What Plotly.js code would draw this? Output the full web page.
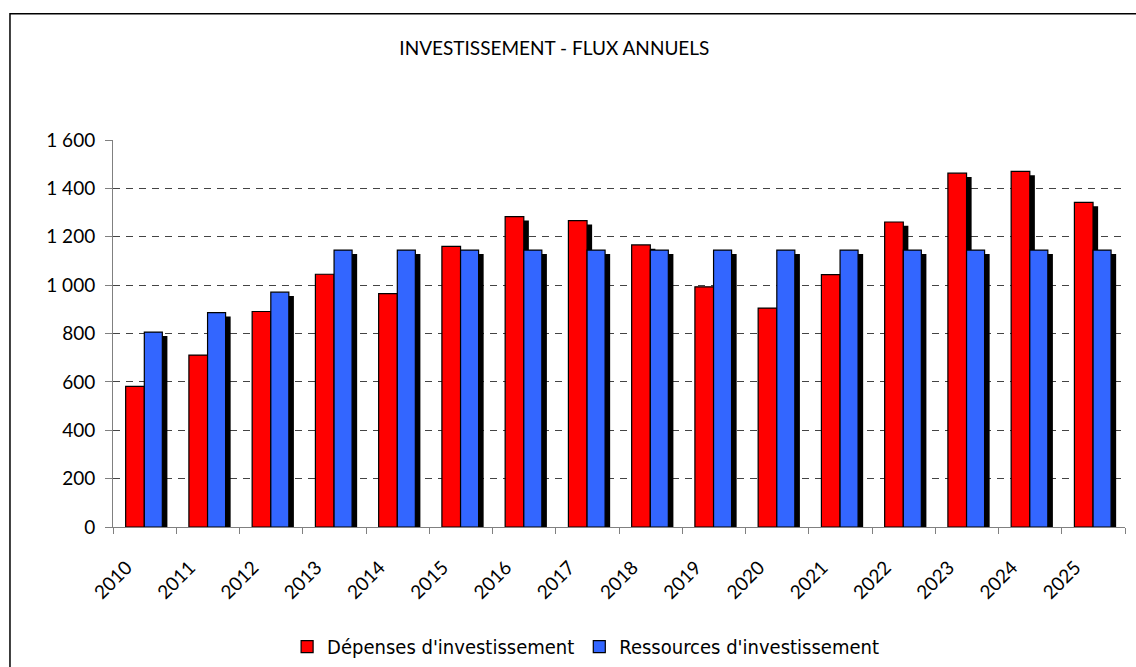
<!DOCTYPE html>
<html>
<head>
<meta charset="utf-8">
<script src="https://cdn.plot.ly/plotly-3.0.1.min.js"></script>
<style>
    html, body { margin: 0; padding: 0; background: #fff; }
    #chart { width: 1136px; height: 667px; }
</style>
</head>
<body>
<div id="chart"></div>
<script>
    // Années et flux annuels
    const annees = ['2010', '2011', '2012', '2013', '2014', '2015', '2016', '2017',
        '2018', '2019', '2020', '2021', '2022', '2023', '2024', '2025'];
    const depenses = [581, 711, 891, 1045, 965, 1160, 1283, 1267, 1166, 993, 905, 1043, 1261, 1463, 1470, 1342];
    const ressources = [806, 886, 971, 1145, 1145, 1145, 1145, 1145, 1145, 1145, 1145, 1145, 1145, 1145, 1145, 1145];
    const yTicks = [0, 200, 400, 600, 800, 1000, 1200, 1400, 1600];

    const config = {
        responsive: false,
        displayModeBar: false
    }

    const police = 'Lato, "Open Sans", sans-serif';

    // Ombre portée noire derrière chaque barre
    function ombre(valeurs, decalage, largeur) {
        return {
            x: annees,
            y: valeurs,
            base: -16,
            type: 'bar',
            offset: decalage,
            width: largeur,
            marker: { color: '#000000', line: { width: 0 } },
            showlegend: false,
            hoverinfo: 'skip'
        }
    }

    const barreDepenses = {
        x: annees,
        y: depenses,
        name: "Dépenses d'investissement",
        type: 'bar',
        offset: -0.3,
        width: 0.295,
        marker: { color: '#ff0000', line: { color: '#000000', width: 1.2 } }
    }

    const barreRessources = {
        x: annees,
        y: ressources,
        name: "Ressources d'investissement",
        type: 'bar',
        offset: -0.005,
        width: 0.285,
        marker: { color: '#3366ff', line: { color: '#000000', width: 1.2 } }
    }

    const dados = [
        ombre(depenses, -0.22, 0.295),
        ombre(ressources, 0.075, 0.285),
        barreDepenses,
        barreRessources
    ];

    const layout = {
        width: 1136,
        height: 667,
        margin: { l: 113, r: 11, t: 140, b: 140, autoexpand: false },
        paper_bgcolor: '#ffffff',
        plot_bgcolor: '#ffffff',
        barmode: 'overlay',
        separators: ', ',
        font: { family: police, size: 19, color: '#000000' },
        title: {
            text: 'INVESTISSEMENT - FLUX ANNUELS',
            font: { family: police, size: 19, color: '#000000' },
            x: 0.488,
            xanchor: 'center',
            y: 0.928,
            yanchor: 'middle'
        },
        xaxis: {
            type: 'category',
            range: [-0.5, 15.5],
            automargin: false,
            tickangle: -45,
            tickson: 'boundaries',
            ticks: 'outside',
            ticklen: 6,
            tickcolor: '#808080',
            ticklabelshift: -18,
            ticklabelstandoff: 21,
            showline: true,
            linecolor: '#808080',
            linewidth: 1,
            showgrid: false,
            tickfont: { family: police, size: 19, color: '#000000' }
        },
        yaxis: {
            range: [0, 1600],
            automargin: false,
            tickvals: yTicks,
            tickformat: ',d',
            ticks: 'outside',
            ticklen: 7,
            tickcolor: '#808080',
            ticklabelstandoff: 6,
            showline: true,
            linecolor: '#808080',
            linewidth: 1,
            zeroline: false,
            showgrid: true,
            gridcolor: '#444444',
            gridwidth: 1,
            griddash: '7px,6px',
            tickfont: { family: police, size: 19, color: '#000000' }
        },
        legend: {
            orientation: 'h',
            x: 0.467,
            xanchor: 'center',
            y: -0.309,
            yanchor: 'middle',
            font: { family: '"DejaVu Sans Condensed", "DejaVu Sans", sans-serif', size: 20, color: '#000000' },
            itemwidth: 30,
            traceorder: 'normal'
        },
        shapes: [{
            type: 'rect',
            xref: 'paper',
            yref: 'paper',
            x0: -0.1018,
            x1: 1.05,
            y0: -0.5,
            y1: 1.3264,
            line: { color: '#000000', width: 1.5 },
            layer: 'below'
        }]
    };

    Plotly.newPlot('chart', dados, layout, config);
</script>
</body>
</html>
